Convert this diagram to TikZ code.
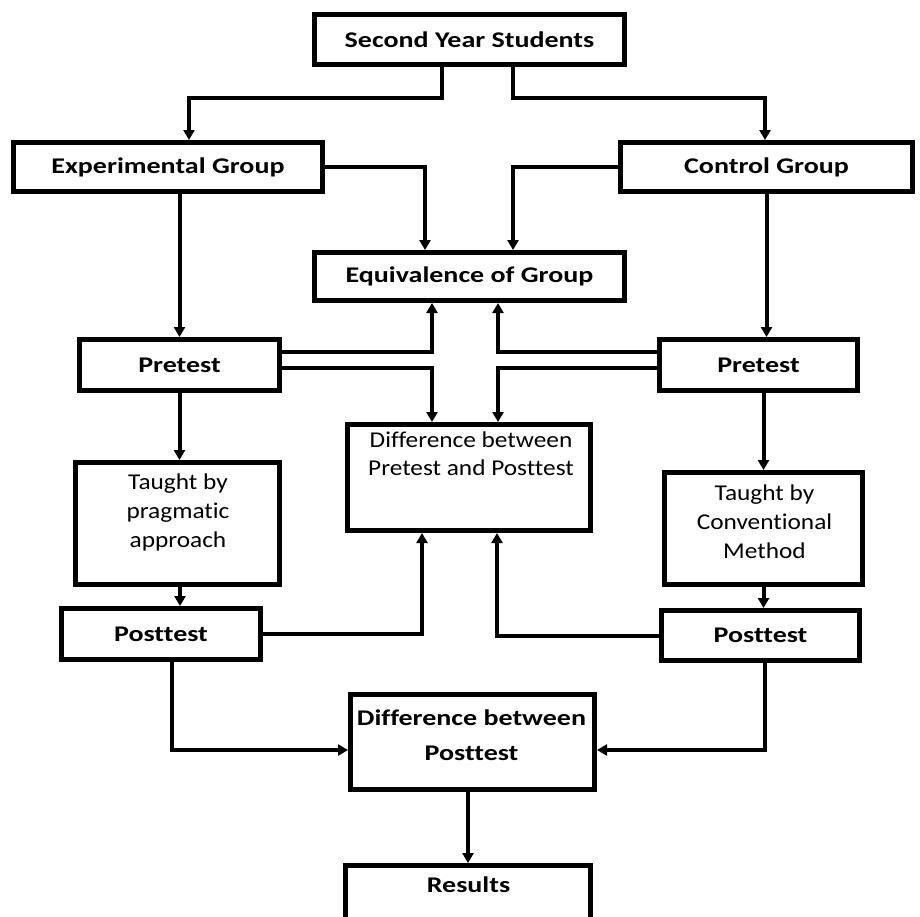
\documentclass[tikz,border=0pt]{standalone}
\usepackage{fontspec}
\defaultfontfeatures{Script=Latin,Ligatures={NoCommon,NoContextual,NoRequired},Contextuals=NoAlternate}
\setmainfont{Carlito}
\newfontfamily\boxfont{Carlito}[FakeStretch=1.25]
\newfontfamily\notefont{Carlito}[FakeStretch=1.12]
\usetikzlibrary{arrows.meta}
\begin{document}
\begin{tikzpicture}[x=0.5pt,y=-0.5pt,
    lbl/.style={inner sep=0pt, align=center, font=\boxfont\bfseries\fontsize{11.2}{17.5}\selectfont},
    box/.style={lbl, draw, line width=2.5pt},
    note/.style={inner sep=0pt, align=center, font=\notefont\fontsize{11.3}{14.5}\selectfont},
    arr/.style={-{Triangle[length=5pt,width=5.5pt]}, line width=2pt}]
    \useasboundingbox (0,0) rectangle (920,916);
    \clip (0,0) rectangle (920,916);

    % boxes
    \node[box, minimum width=155pt, minimum height=25pt] (sy) at (469.5,39.5) {Second Year Students};
    \node[box, minimum width=154.5pt, minimum height=24.5pt] (exp) at (168,167) {Experimental Group};
    \node[box, minimum width=146pt, minimum height=24.5pt] (ctrl) at (766.5,167) {Control Group};
    \node[box, minimum width=155pt, minimum height=24pt] (eq) at (469.5,276.5) {Equivalence of Group};
    \node[box, minimum width=100pt, minimum height=25.5pt] (prel) at (179.5,365) {Pretest};
    \node[box, minimum width=99pt, minimum height=25.5pt] (prer) at (758.5,365) {Pretest};
    \node[box, minimum width=121.5pt, minimum height=53pt] (dpp) at (469,477.5) {};
    \node[note, font=\notefont\fontsize{11.3}{14}\selectfont] (dppt) at (471,454) {Difference between\\Pretest and Posttest};
    \node[box, minimum width=102pt, minimum height=61pt] (tp) at (177.5,523.5) {};
    \node[note] (tpt) at (178,512) {Taught by\\pragmatic\\approach};
    \node[box, minimum width=99pt, minimum height=56pt] (tc) at (763.5,528.5) {};
    \node[note] (tct) at (764.5,521.5) {Taught by\\Conventional\\Method};
    \node[box, minimum width=99.5pt, minimum height=25.5pt] (postl) at (161,634) {Posttest};
    \node[box, minimum width=99pt, minimum height=25pt] (postr) at (760.5,635.5) {Posttest};
    \node[box, minimum width=122pt, minimum height=47.5pt] (dpost) at (472.5,742) {};
    \node[lbl] (dpostt) at (471.5,735.5) {Difference between\\Posttest};
    \node[box, minimum width=122.5pt, minimum height=37.25pt] (res) at (468,902.75) {};
    \node[lbl] (rest) at (468.5,885) {Results};

    % arrows
    \draw[arr] ([xshift=-13.75pt]sy.south) -- ++(0,31) -| ([xshift=10.5pt]exp.north);
    \draw[arr] ([xshift=21.75pt]sy.south) -- ++(0,31) -| ([xshift=-0.75pt]ctrl.north);
    \draw[arr] (exp.east) -| ([xshift=-22.25pt]eq.north);
    \draw[arr] (ctrl.west) -| ([xshift=21.75pt]eq.north);
    \draw[arr] (prel.north |- exp.south) -- (prel.north);
    \draw[arr] (ctrl.south) -- (ctrl.south |- prer.north);
    \draw[arr] ([yshift=6.5pt]prel.east) -| ([xshift=-18.75pt]eq.south);
    \draw[arr] ([yshift=-1.5pt]prel.east) -| ([xshift=-18.5pt]dpp.north);
    \draw[arr] ([yshift=6.5pt]prer.west) -| ([xshift=14.25pt]eq.south);
    \draw[arr] ([yshift=-1.5pt]prer.west) -| ([xshift=14.5pt]dpp.north);
    \draw[arr] (prel.south) -- (prel.south |- tp.north);
    \draw[arr] (tc.north |- prer.south) -- (tc.north);
    \draw[arr] ([xshift=1.25pt]tp.south) -- ([xshift=1.25pt]tp.south |- postl.north);
    \draw[arr] (tc.south) -- (tc.south |- postr.north);
    \draw[arr] (postl.east) -| ([xshift=-23.5pt]dpp.south);
    \draw[arr] (postr.west) -| ([xshift=14pt]dpp.south);
    \draw[arr] ([xshift=5.5pt]postl.south) |- ([yshift=-4pt]dpost.west);
    \draw[arr] ([xshift=2.25pt]postr.south) |- ([yshift=-4pt]dpost.east);
    \draw[arr] (res.north |- dpost.south) -- (res.north);
\end{tikzpicture}
\end{document}
